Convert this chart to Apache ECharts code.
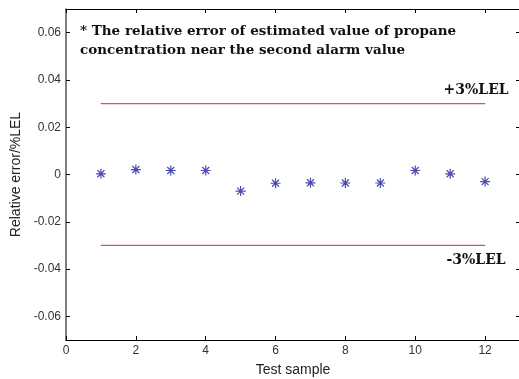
<!DOCTYPE html>
<html>
<head>
<meta charset="utf-8">
<script src="https://cdn.jsdelivr.net/npm/echarts@6/dist/echarts.min.js"></script>
<style>
  html, body { margin: 0; padding: 0; background: #fff; }
  #chart { width: 519px; height: 379px; }
</style>
</head>
<body>
<div id="chart"></div>
<script>
// Test samples and relative error of the propane estimate
const samples = [1, 2, 3, 4, 5, 6, 7, 8, 9, 10, 11, 12];
const relError = [0.0003, 0.0021, 0.0017, 0.0017, -0.0070, -0.0037, -0.0035, -0.0036, -0.0036, 0.0017, 0.0003, -0.0030];

// Tolerance band limits (±3 %LEL) drawn across the sample range
const limitX = [1, 12];
const upperLimit = 0.03;
const lowerLimit = -0.03;

// Tick positions
const xTicks = [0, 2, 4, 6, 8, 10, 12];
const yTicks = [-0.06, -0.04, -0.02, 0, 0.02, 0.04, 0.06];

const noteLines = [
  '* The relative error of estimated value of propane',
  'concentration near the second alarm value'
];

const chart = echarts.init(document.getElementById('chart'), null, { renderer: 'canvas' });

const lineColor = '#d2506e';
const starColor = '#1e1e9c';
const asterisk = 'path://M5,0L5,10M0,5L10,5M1.5,1.5L8.5,8.5M8.5,1.5L1.5,8.5';

const fmtY = v => (Math.abs(v) < 1e-9 ? '0' : v.toFixed(2));

const tickStyle = { inside: true, length: 4, lineStyle: { color: '#000', width: 1 } };

const limitLabel = (text, pos, offset) => ({
  show: true, formatter: text, position: pos, offset: offset,
  fontFamily: 'DejaVu Serif', fontWeight: 'bold', fontSize: 14, color: '#111'
});

const limitSeries = (y, text, pos, offset) => ({
  type: 'line',
  color: lineColor,
  data: limitX.map((x, i) => ({
    value: [x, y],
    label: i === limitX.length - 1 ? limitLabel(text, pos, offset) : { show: false }
  })),
  showSymbol: true, symbol: 'circle', symbolSize: 0.5,
  itemStyle: { color: lineColor },
  lineStyle: { color: lineColor, width: 1.2, opacity: 1 },
  silent: true
});

chart.setOption({
  animation: false,
  backgroundColor: '#fff',
  grid: { left: 66, right: -1, top: 9, bottom: 39, containLabel: false, outerBoundsMode: 'none' },
  xAxis: [
    {
      type: 'value', min: 0, max: 13, position: 'bottom',
      name: 'Test sample', nameLocation: 'middle', nameGap: 23,
      nameTextStyle: { fontFamily: 'Liberation Sans', fontSize: 14, color: '#222' },
      axisLine: { onZero: false, lineStyle: { color: '#000', width: 1.2 } },
      axisTick: Object.assign({ customValues: xTicks }, tickStyle),
      axisLabel: { customValues: xTicks, fontFamily: 'Liberation Sans', fontSize: 12, color: '#333', margin: 5 },
      splitLine: { show: false }
    },
    {
      type: 'value', min: 0, max: 13, position: 'top',
      axisLine: { onZero: false, lineStyle: { color: '#000', width: 1.2 } },
      axisTick: Object.assign({ customValues: xTicks }, tickStyle),
      axisLabel: { show: false },
      splitLine: { show: false }
    }
  ],
  yAxis: [
    {
      type: 'value', min: -0.07, max: 0.07, position: 'left',
      name: 'Relative error/%LEL', nameLocation: 'middle', nameGap: 40,
      nameTextStyle: { fontFamily: 'Liberation Sans', fontSize: 14, color: '#222' },
      axisLine: { onZero: false, lineStyle: { color: '#555', width: 1.5 } },
      axisTick: Object.assign({ customValues: yTicks }, tickStyle),
      axisLabel: { customValues: yTicks, formatter: fmtY, fontFamily: 'Liberation Sans', fontSize: 12, color: '#333', margin: 5 },
      splitLine: { show: false }
    },
    {
      type: 'value', min: -0.07, max: 0.07, position: 'right',
      axisLine: { onZero: false, lineStyle: { color: '#000', width: 1.2 } },
      axisTick: Object.assign({ customValues: yTicks }, tickStyle),
      axisLabel: { show: false },
      splitLine: { show: false }
    }
  ],
  series: [
    limitSeries(upperLimit, '+3%LEL', 'top', [-9, -1]),
    limitSeries(lowerLimit, '-3%LEL', 'bottom', [-9, 3]),
    {
      type: 'scatter',
      data: samples.map((x, i) => [x, relError[i]]),
      symbol: asterisk,
      symbolSize: 10,
      itemStyle: { color: 'rgba(0,0,0,0)', borderColor: starColor, borderWidth: 1.2 }
    }
  ],
  graphic: [
    {
      type: 'text', left: 80, top: 22,
      style: {
        text: noteLines.join('\n'),
        font: 'bold 13.5px "DejaVu Serif"',
        lineHeight: 19,
        fill: '#111'
      }
    }
  ]
});
</script>
</body>
</html>
